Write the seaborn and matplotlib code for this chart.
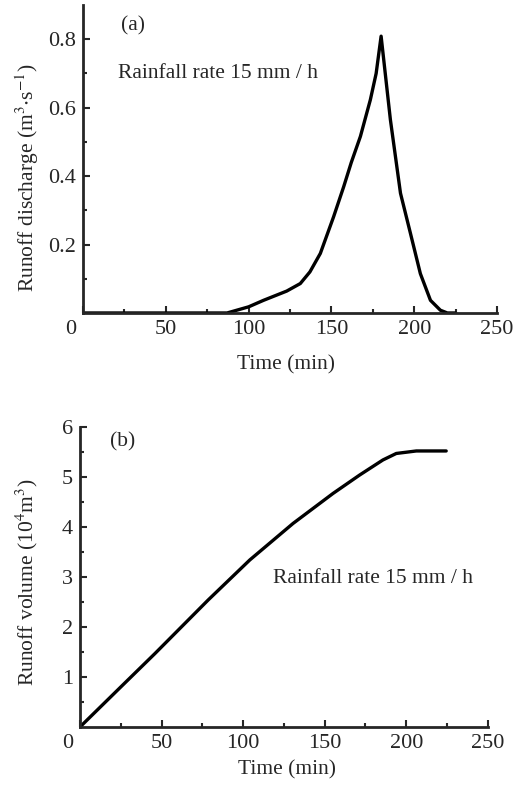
import numpy as np
import pandas as pd
import seaborn as sns
import matplotlib
matplotlib.use("Agg")
import matplotlib.pyplot as plt
from matplotlib.ticker import MultipleLocator, FixedLocator
from matplotlib.transforms import ScaledTranslation

# Panel (a): runoff discharge hydrograph
time_a = [0, 20, 50, 80, 87, 100, 109, 123, 131.2, 137, 143.3, 151.3, 157.4, 162, 167.5, 173.5,
          177, 180, 185.6, 191.7, 197.7, 203.7, 209.8, 215.8, 220, 225]
discharge = [0, 0, 0, 0, 0, 0.018, 0.037, 0.064, 0.086, 0.12, 0.174, 0.281, 0.369, 0.44, 0.516, 0.623,
             0.70, 0.809, 0.565, 0.35, 0.233, 0.115, 0.037, 0.008, 0, 0]

# Panel (b): cumulative runoff volume
time_b = [0, 25, 46, 78.6, 104.1, 130.6, 155.1, 171.5, 185.7, 193.9, 206.2, 224.5]
volume = [0, 0.8, 1.47, 2.54, 3.34, 4.07, 4.67, 5.04, 5.34, 5.47, 5.52, 5.52]

xticks = [0, 50, 100, 150, 200, 250]
yticks_a = [0.2, 0.4, 0.6, 0.8]
yticks_b = [1, 2, 3, 4, 5, 6]

sns.set_style("ticks")
plt.rcParams['font.family'] = ['Liberation Serif', 'DejaVu Serif']
plt.rcParams['mathtext.fontset'] = 'stix'

fig = plt.figure(figsize=(5.14, 7.85), dpi=100)
ax1 = fig.add_axes([0.1615, 0.6013, 0.967 - 0.1615, 0.3923])
ax2 = fig.add_axes([0.1556, 0.0739, 0.949 - 0.1556, 0.3822])

dfa = pd.DataFrame({"t": time_a, "q": discharge})
dfb = pd.DataFrame({"t": time_b, "v": volume})
sns.lineplot(data=dfa, x="t", y="q", ax=ax1, color="black", lw=2.4)
sns.lineplot(data=dfb, x="t", y="v", ax=ax2, color="black", lw=2.4)

fs_tick = 16
fs = 15.5
for ax in (ax1, ax2):
    sns.despine(ax=ax)
    ax.spines['left'].set_linewidth(2)
    ax.spines['bottom'].set_linewidth(2)
    ax.set_xlim(0, 250)
    ax.xaxis.set_major_locator(FixedLocator(xticks))
    ax.xaxis.set_minor_locator(MultipleLocator(25))
    ax.tick_params(which='both', direction='in', width=1.5, labelsize=fs_tick, pad=5)
    ax.tick_params(which='major', length=5)
    ax.tick_params(which='minor', length=3)
    ax.set_xlabel("Time (min)", fontsize=fs)

ax1.set_ylim(0, 0.9)
ax1.yaxis.set_major_locator(FixedLocator(yticks_a))
ax1.yaxis.set_minor_locator(FixedLocator([0.1, 0.3, 0.5, 0.7]))
ax1.set_yticklabels([f"{v:.1f}" for v in yticks_a])
ax1.set_ylabel(r"Runoff discharge (m$^3$$\cdot$s$^{-1}$)", fontsize=fs)
ax1.yaxis.set_label_coords(-0.102, 0.44)
ax1.xaxis.set_label_coords(0.49, -0.136)
ax1.text(23, 0.84, "(a)", fontsize=fs, va="center")
ax1.text(21.4, 0.70, "Rainfall rate 15 mm / h", fontsize=fs, va="center")

ax2.set_ylim(0, 6)
ax2.yaxis.set_major_locator(FixedLocator(yticks_b))
ax2.yaxis.set_minor_locator(FixedLocator([0.5, 1.5, 2.5, 3.5, 4.5, 5.5]))
ax2.set_ylabel(r"Runoff volume (10$^4$m$^3$)", fontsize=fs)
ax2.yaxis.set_label_coords(-0.098, 0.483)
ax2.xaxis.set_label_coords(0.507, -0.11)
ax2.text(18.4, 5.7, "(b)", fontsize=fs, va="center")
ax2.text(118.4, 2.97, "Rainfall rate 15 mm / h", fontsize=fs, va="center")

for ax in (ax1, ax2):
    lbl = ax.xaxis.get_majorticklabels()[0]
    lbl.set_transform(lbl.get_transform() + ScaledTranslation(-9 / 72, 0, fig.dpi_scale_trans))

fig.savefig("out.png", dpi=100)
